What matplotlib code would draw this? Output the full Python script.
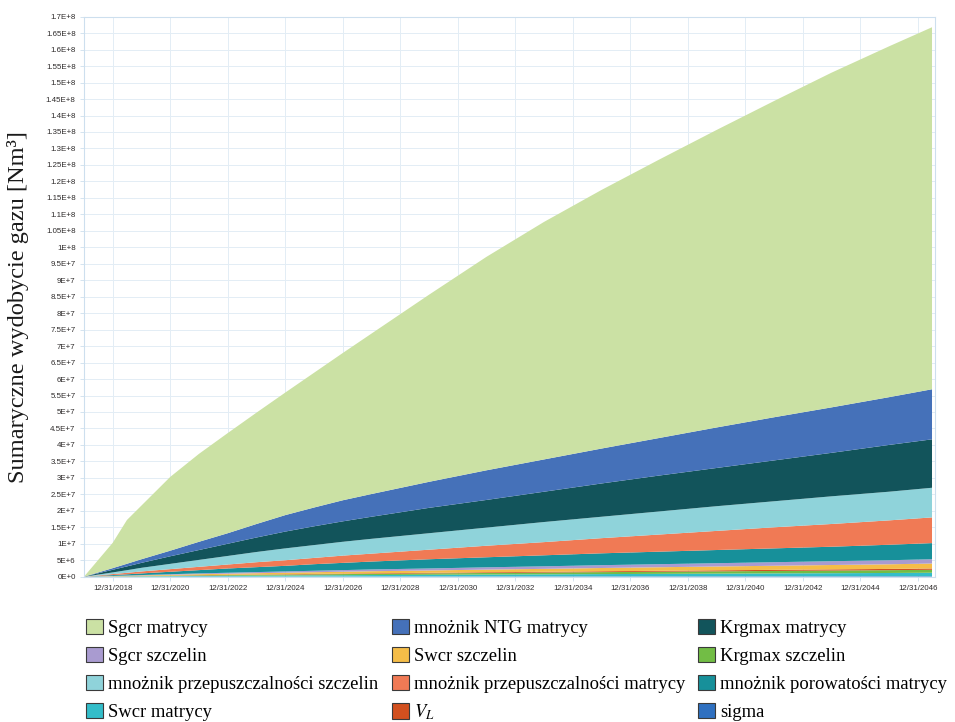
import numpy as np
import pandas as pd
import matplotlib
matplotlib.use("Agg")
import matplotlib.pyplot as plt
from matplotlib.patches import Patch
from matplotlib.ticker import FuncFormatter, MultipleLocator

plt.rcParams["mathtext.fontset"] = "stix"

# Simulation report dates (start 1 Jan 2018)
dates = pd.to_datetime([
    "2018-01-01", "2019-01-01", "2019-07-01", "2020-01-01", "2021-01-01",
    "2022-01-01", "2023-01-01", "2024-01-01", "2025-01-01", "2026-01-01",
    "2027-01-01", "2028-01-01", "2030-01-01", "2032-01-01", "2034-01-01",
    "2036-01-01", "2038-01-01", "2040-01-01", "2042-01-01", "2044-01-01",
    "2046-01-01", "2047-07-01",
])

# Contribution of each parameter to cumulative gas production [mln Nm3]
sigma           = [0, .01, .01, .01, .02, .03, .03, .04, .05, .05, .06, .06, .07, .08, .09, .10, .11, .12, .12, .13, .14, .15]
swcr_matrycy    = [0, .05, .07, .10, .15, .20, .24, .28, .31, .36, .39, .44, .50, .57, .62, .69, .75, .81, .88, .93, .99, 1.05]
krgmax_szczelin = [0, .04, .06, .09, .13, .17, .20, .23, .27, .30, .34, .37, .42, .48, .54, .60, .65, .70, .74, .80, .85, .90]
v_l             = [0, .02, .03, .04, .05, .07, .10, .11, .12, .14, .15, .17, .19, .22, .24, .26, .28, .31, .34, .36, .38, .40]
swcr_szczelin   = [0, .07, .10, .14, .22, .29, .33, .40, .46, .51, .57, .62, .71, .80, .89, .99, 1.08, 1.16, 1.24, 1.33, 1.41, 1.50]
sgcr_szczelin   = [0, .06, .09, .12, .18, .24, .30, .34, .39, .44, .49, .54, .61, .70, .77, .86, .93, 1.00, 1.08, 1.15, 1.23, 1.30]
por_matrycy     = [0, .25, .37, .5, .75, 1.0, 1.3, 1.5, 1.7, 2.0, 2.2, 2.4, 2.8, 3.05, 3.35, 3.6, 3.8, 4.0, 4.2, 4.4, 4.7, 4.9]
perm_matrycy    = [0, .3, .45, .6, .8, 1.0, 1.2, 1.5, 1.7, 1.9, 2.2, 2.4, 2.9, 3.5, 4.0, 4.6, 5.2, 5.8, 6.4, 6.9, 7.4, 7.8]
perm_szczelin   = [0, .5, .8, 1.1, 1.6, 2.1, 2.6, 3.1, 3.6, 3.9, 4.2, 4.5, 5.0, 5.5, 6.1, 6.5, 7.0, 7.5, 7.9, 8.4, 8.7, 9.0]
krgmax_matrycy  = [0, .8, 1.15, 1.5, 2.3, 3.0, 3.7, 4.4, 5.1, 5.7, 6.2, 6.7, 7.7, 8.4, 9.2, 10.1, 10.9, 11.6, 12.4, 13.2, 14.2, 14.7]
ntg_matrycy     = [0, .5, .8, 1.1, 1.7, 2.5, 3.2, 4.1, 5.0, 5.7, 6.4, 6.9, 7.9, 9.0, 9.8, 10.6, 11.4, 12.3, 13.1, 13.8, 14.5, 15.2]
sgcr_matrycy    = [0, 7.7, 13.3, 16.3, 22.4, 26.7, 30.4, 33.8, 37.2, 40.9, 44.7, 48.7, 56.8, 64.8, 72.1, 78.5, 84.5, 90.3, 96.0, 101.6, 106.5, 109.9]

# Legend labels and colours
label_sgcr_m = "Sgcr matrycy"
label_ntg = "mnożnik NTG matrycy"
label_krg_m = "Krgmax matrycy"
label_sgcr_s = "Sgcr szczelin"
label_swcr_s = "Swcr szczelin"
label_krg_s = "Krgmax szczelin"
label_perm_s = "mnożnik przepuszczalności szczelin"
label_perm_m = "mnożnik przepuszczalności matrycy"
label_por_m = "mnożnik porowatości matrycy"
label_swcr_m = "Swcr matrycy"
label_vl = "$V_L$"
label_sigma = "sigma"

colors = {
    label_sgcr_m: "#cbe1a4",
    label_ntg: "#4571b9",
    label_krg_m: "#12545b",
    label_sgcr_s: "#a99bd0",
    label_swcr_s: "#f5bd48",
    label_krg_s: "#72bd45",
    label_perm_s: "#8fd3da",
    label_perm_m: "#f07a55",
    label_por_m: "#17909a",
    label_swcr_m: "#33bdc9",
    label_vl: "#d2501f",
    label_sigma: "#2f70c0",
}

# Stacking order, bottom to top
stack = [
    (label_sigma, sigma),
    (label_swcr_m, swcr_matrycy),
    (label_krg_s, krgmax_szczelin),
    (label_vl, v_l),
    (label_swcr_s, swcr_szczelin),
    (label_sgcr_s, sgcr_szczelin),
    (label_por_m, por_matrycy),
    (label_perm_m, perm_matrycy),
    (label_perm_s, perm_szczelin),
    (label_krg_m, krgmax_matrycy),
    (label_ntg, ntg_matrycy),
    (label_sgcr_m, sgcr_matrycy),
]

tick_years = list(range(2018, 2047, 2))

fig = plt.figure(figsize=(9.55, 7.22), dpi=100)
ax = fig.add_axes([84 / 955, 1 - 576.7 / 722, (935 - 84) / 955, (576.7 - 16.7) / 722])

ax.stackplot(dates,
             *[np.array(v) * 1e6 for _, v in stack],
             colors=[colors[n] for n, _ in stack],
             linewidth=0)

ax.set_xlim(pd.Timestamp("2018-01-01"), pd.Timestamp("2047-08-08"))
ax.set_ylim(0, 1.7e8)

ax.yaxis.set_major_locator(MultipleLocator(5e6))


def sci_label(v, pos):
    if v < 1:
        return "0E+0"
    e = int(np.floor(np.log10(v) + 1e-9))
    m = round(v / 10 ** e, 3)
    return f"{m:g}E+{e}"


ax.yaxis.set_major_formatter(FuncFormatter(sci_label))
ax.set_xticks(pd.to_datetime([f"{y}-12-31" for y in tick_years]))
ax.set_xticklabels([f"12/31/{y}" for y in tick_years])

ax.grid(True, color="#e3edf5", linewidth=0.7)
ax.set_axisbelow(True)
for s in ax.spines.values():
    s.set_color("#cddfee")
    s.set_linewidth(0.8)
ax.tick_params(axis="both", length=3, width=0.6, color="#cddfee",
               labelsize=5.7, labelcolor="#2e2b2b", pad=3)
for lab in ax.get_xticklabels() + ax.get_yticklabels():
    lab.set_fontfamily("Liberation Sans")

fig.text(18 / 955, 1 - 307 / 722, "Sumaryczne wydobycie gazu [Nm³]",
         rotation=90, ha="center", va="center",
         family="Liberation Serif", fontsize=17.6, color="#1a1a1a")

# Legend, filled column by column
legend_order = [
    label_sgcr_m, label_sgcr_s, label_perm_s, label_swcr_m,
    label_ntg, label_swcr_s, label_perm_m, label_vl,
    label_krg_m, label_krg_s, label_por_m, label_sigma,
]
handles = [Patch(facecolor=colors[n], edgecolor="#3a3a3a", linewidth=0.8)
           for n in legend_order]
fig.legend(handles, legend_order, ncol=3, loc="upper left",
           bbox_to_anchor=(86 / 955, 1 - 618.5 / 722),
           frameon=False, prop={"family": "Liberation Serif", "size": 13.4},
           handlelength=0.91, handleheight=0.91, handletextpad=0.27,
           columnspacing=0.72, labelspacing=0.53, borderpad=0, borderaxespad=0)

fig.savefig("out.png", dpi=100, facecolor="white")
